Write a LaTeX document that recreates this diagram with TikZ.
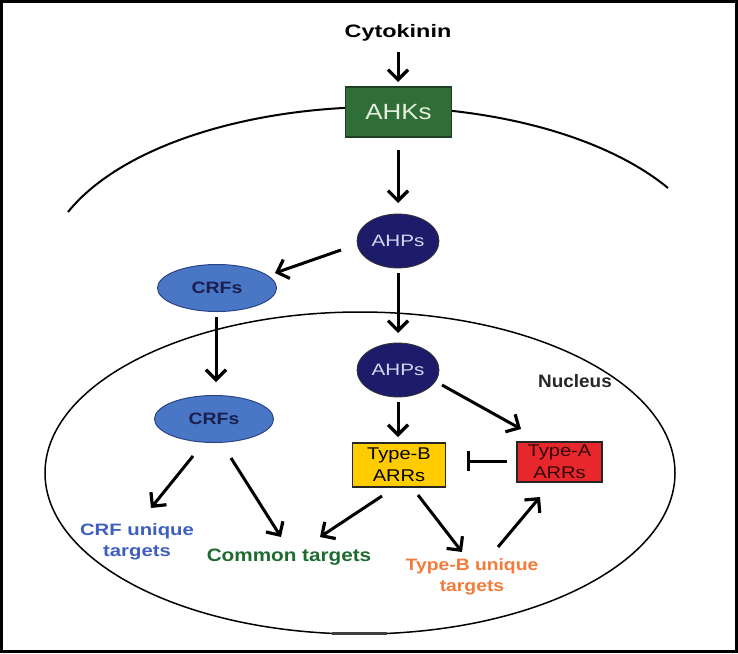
\documentclass[tikz,border=0pt]{standalone}
\usepackage{fontspec}
\usepackage{graphicx}
\setmainfont{Liberation Sans}
\usetikzlibrary{arrows.meta,shapes.geometric,calc}
\newcommand\hs[2]{\scalebox{#1}[1]{#2}}
\definecolor{ahkgreen}{HTML}{2F6E36}
\definecolor{ahkborder}{HTML}{1E3F20}
\definecolor{ahptext}{HTML}{D6D6EE}
\definecolor{ahpnavy}{HTML}{1C1C6A}
\definecolor{crfblue}{HTML}{4A76C6}
\definecolor{crfborder}{HTML}{2A4585}
\definecolor{crftext}{HTML}{1A1F4F}
\definecolor{tbyellow}{HTML}{FFCC00}
\definecolor{tared}{HTML}{E8272C}
\definecolor{crfutext}{HTML}{3E5FC0}
\definecolor{commontext}{HTML}{1E6B30}
\definecolor{tbutext}{HTML}{F27A3A}
\tikzset{
  arr/.style={line width=3pt, draw=black, -{Straight Barb[length=10pt,width=20pt,line width=3.2pt]}},
  inh/.style={line width=3pt, draw=black, -{Bar[width=20pt,line width=3.2pt]}},
  ahpnode/.style={ellipse, fill=ahpnavy, draw=black!80, line width=0.8pt, minimum width=82pt, minimum height=54pt, inner sep=0pt, text=ahptext, font=\fontsize{16.5}{20}\selectfont},
  crfnode/.style={ellipse, fill=crfblue, draw=crfborder, line width=1pt, minimum width=119pt, minimum height=47pt, inner sep=0pt, text=crftext, font=\fontsize{16.5}{20}\selectfont\bfseries},
  arrbox/.style={rectangle, draw=black!85, line width=1.8pt, inner sep=0pt, align=center, font=\fontsize{17}{22}\selectfont},
  label/.style={align=center, inner sep=0pt, font=\fontsize{16.5}{21.5}\selectfont\bfseries}
}
\begin{document}
\begin{tikzpicture}[x=1pt,y=-1pt]
\useasboundingbox (0,0) rectangle (738,653);
\fill[white] (0,0) rectangle (738,653);
\draw[line width=3pt] (1.5,1.5) rectangle (736.5,651.5);

% membranes
\draw[line width=2pt] (68,212) arc[start angle=-158.2, end angle=-31, x radius=336, y radius=167];
\draw[line width=1.5pt] (360,473) ellipse[x radius=315, y radius=161];
\draw[line width=3pt, black!75] (332,633) -- (387,633);

% nodes
\node[font=\fontsize{18}{22}\selectfont\bfseries] (cyto) at (398,33) {\hs{1.3}{Cytokinin}};
\node[rectangle, fill=ahkgreen, draw=ahkborder, line width=1.5pt, minimum width=106pt, minimum height=50pt, text={rgb,255:red,230;green,238;blue,222}, font=\fontsize{22}{26}\selectfont] (ahks) at (398.5,112) {\hs{1.18}{AHKs}};
\node[ahpnode] (ahp1) at (398,241) {\hs{1.25}{AHPs}};
\node[crfnode] (crf1) at (217,288) {\hs{1.18}{CRFs}};
\node[ahpnode] (ahp2) at (398,370) {\hs{1.25}{AHPs}};
\node[crfnode] (crf2) at (214,419) {\hs{1.18}{CRFs}};
\node[arrbox, fill=tbyellow, minimum width=93pt, minimum height=44pt] (typeB) at (399,465) {\hs{1.18}{Type-B}\\\hs{1.18}{ARRs}};
\node[arrbox, fill=tared, minimum width=85pt, minimum height=40pt, text={rgb,255:red,50;green,10;blue,10}] (typeA) at (559.5,462) {\hs{1.18}{Type-A}\\\hs{1.18}{ARRs}};
\node[font=\fontsize{18}{22}\selectfont\bfseries, text=black!85] (nucleus) at (575,381) {\hs{1.05}{Nucleus}};
\node[label, text=crfutext] (crfu) at (137,542) {\hs{1.23}{CRF unique}\\\hs{1.23}{targets}};
\node[label, text=commontext, font=\fontsize{18}{22}\selectfont\bfseries] (common) at (289,557) {\hs{1.15}{Common targets}};
\node[label, text=tbutext] (tbu) at (472,577) {\hs{1.17}{Type-B unique}\\\hs{1.17}{targets}};

% connectors
\draw[arr] ($(cyto)+(0,19)$) -- ($(ahks)+(-0.5,-30)$);
\draw[arr] ($(ahks)+(-0.5,38)$) -- ($(ahp1)+(0,-38)$);
\draw[arr] ($(ahp1)+(0,32)$) -- ($(ahp2)+(0,-37)$);
\draw[arr] ($(ahp1)+(-57,9)$) -- ($(crf1)+(58,-15)$);
\draw[arr] ($(crf1)+(-1,29)$) -- ($(crf2)+(2,-37)$);
\draw[arr] ($(ahp2)+(0,32)$) -- ($(typeB)+(-1,-28)$);
\draw[arr] ($(ahp2)+(44,15)$) -- ($(typeA)+(-38.5,-33)$);
\draw[inh] ($(typeA)+(-52.5,-1)$) -- ($(typeB)+(68,-4)$);
\draw[arr] ($(crf2)+(-21,37)$) -- ($(crfu)+(14,-34)$);
\draw[arr] ($(crf2)+(17,39)$) -- ($(common)+(-8,-20)$);
\draw[arr] ($(typeB)+(-17,31)$) -- ($(common)+(31,-20)$);
\draw[arr] ($(typeB)+(19,30)$) -- ($(tbu)+(-10,-25)$);
\draw[arr] ($(tbu)+(26,-30)$) -- ($(typeA)+(-19.5,35)$);
\end{tikzpicture}
\end{document}
